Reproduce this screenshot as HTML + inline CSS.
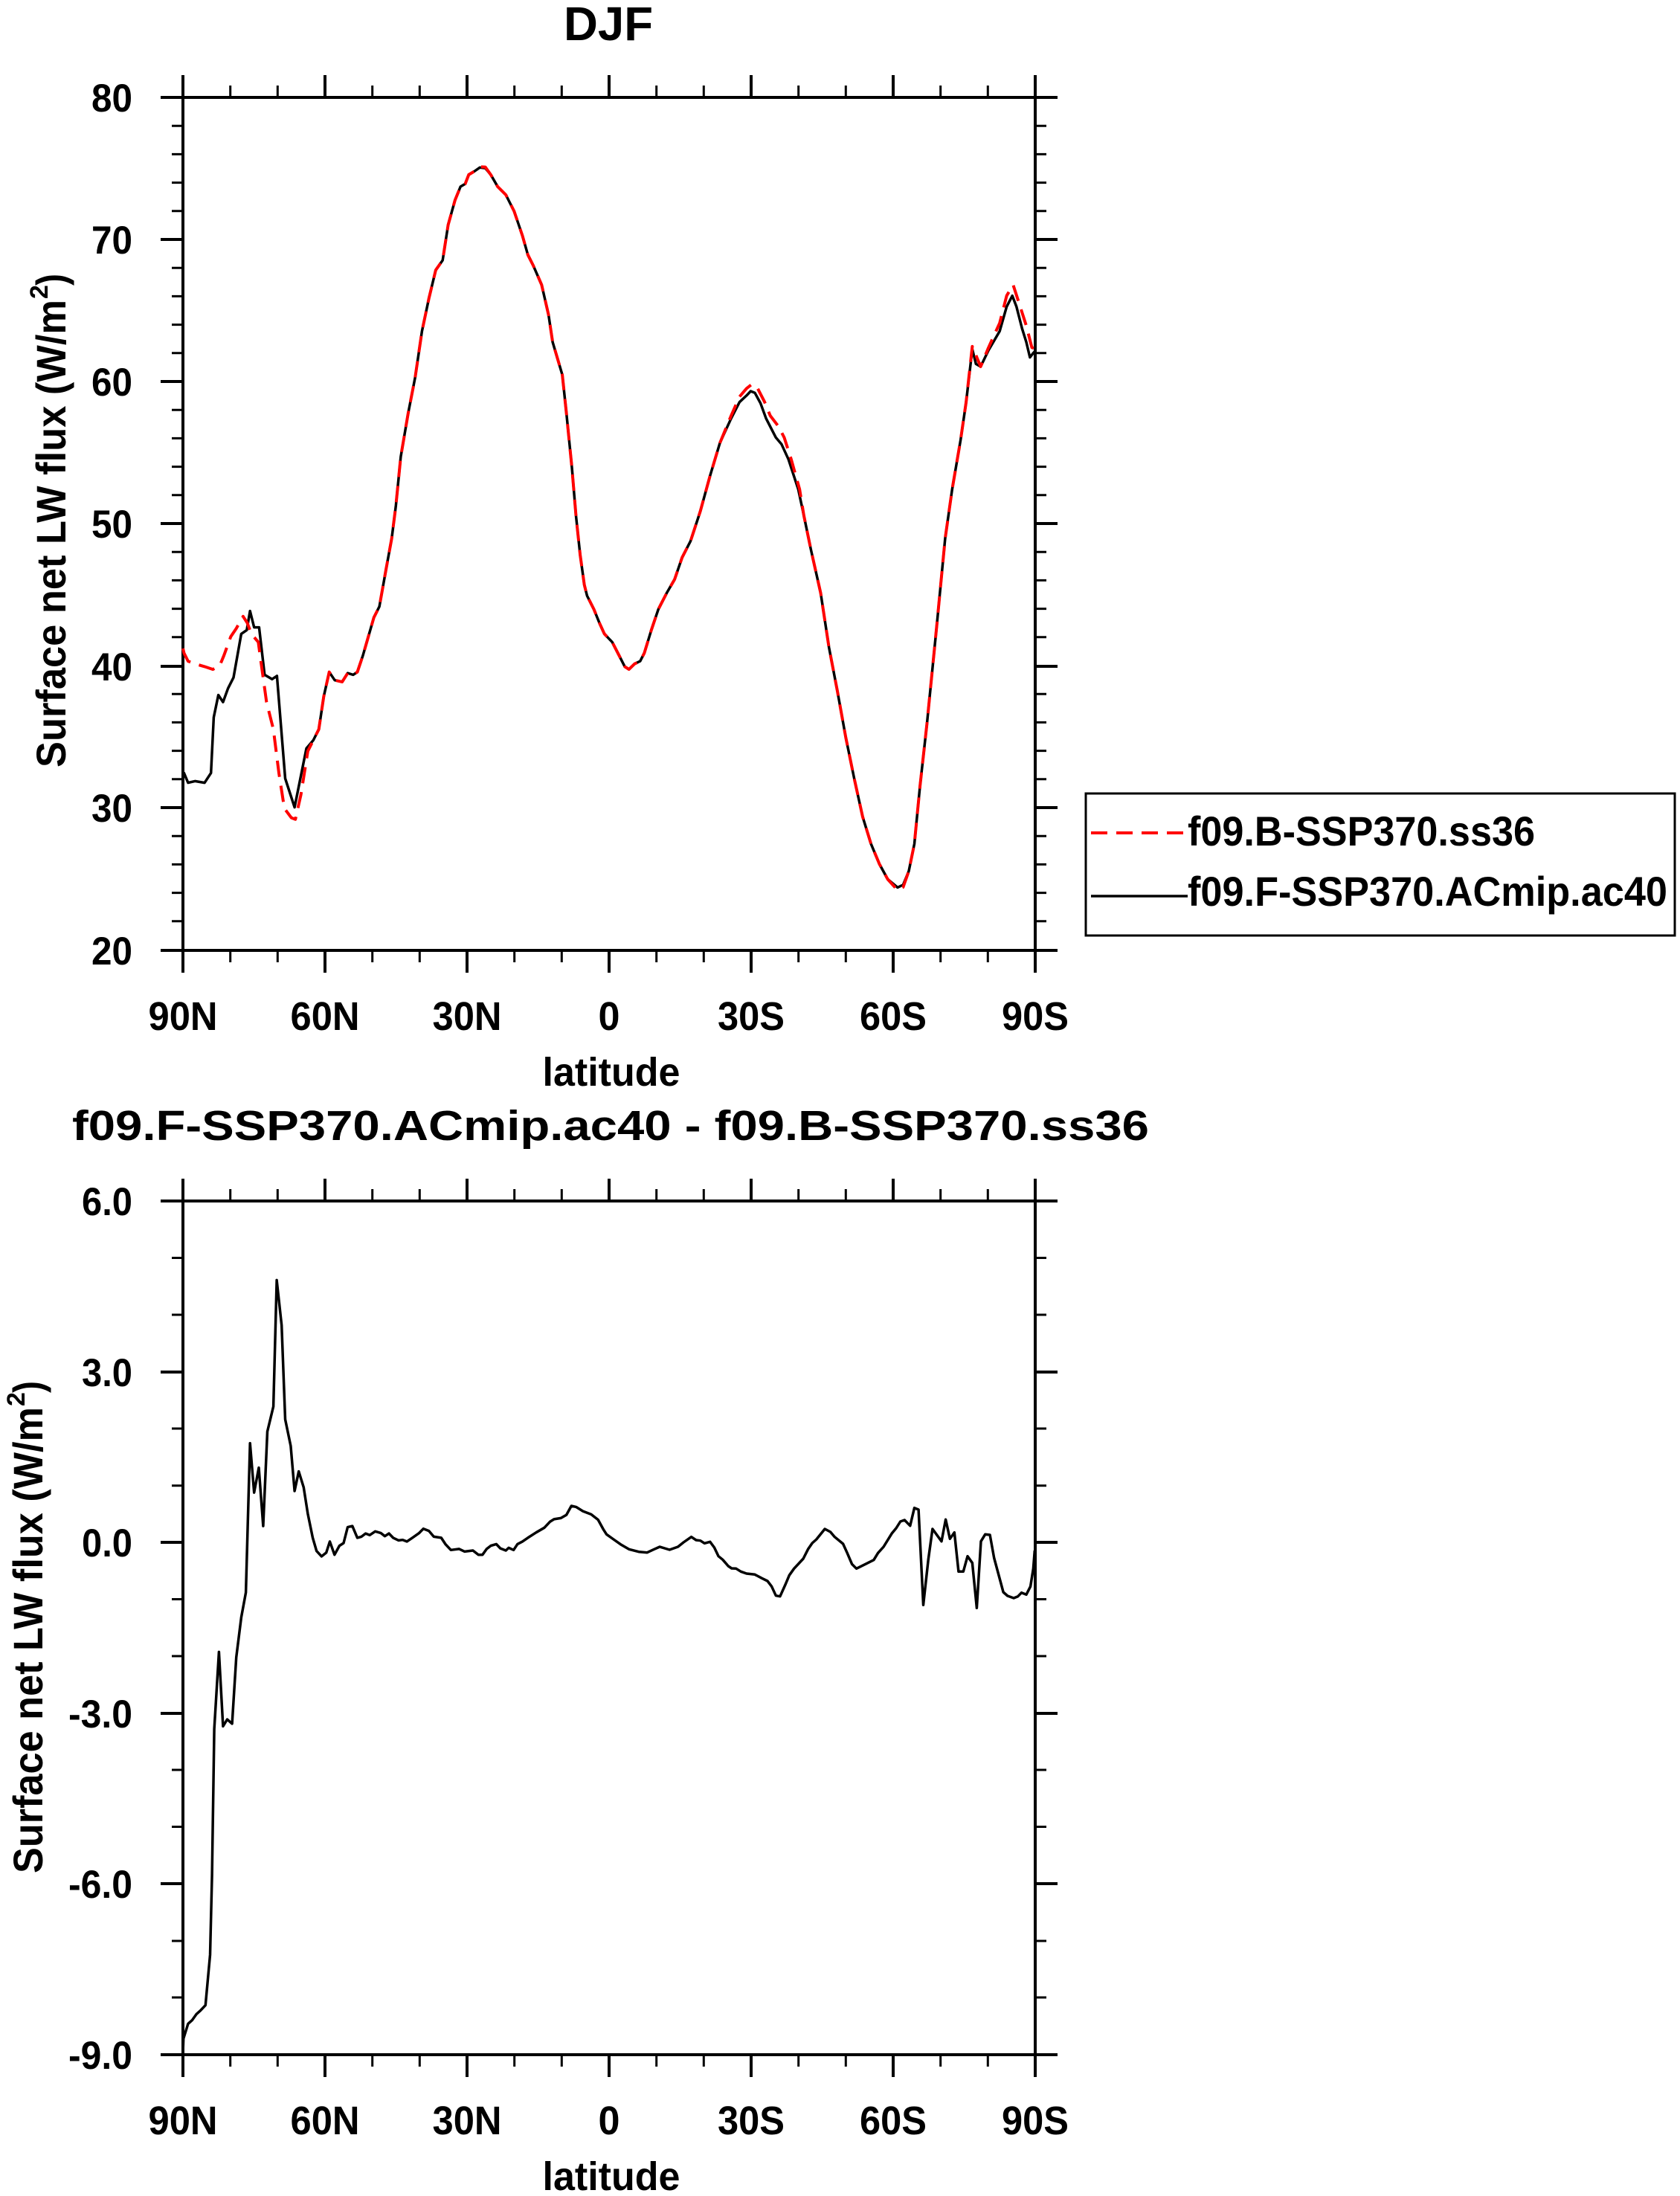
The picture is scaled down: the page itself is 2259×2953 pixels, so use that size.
<!DOCTYPE html>
<html><head><meta charset="utf-8"><style>html,body{margin:0;padding:0;background:#fff}svg{display:block}text{font-family:"Liberation Sans",Arial,sans-serif;font-weight:bold;fill:#000}</style></head><body>
<svg width="2259" height="2953" viewBox="0 0 2259 2953" xmlns="http://www.w3.org/2000/svg">
<text x="818" y="54" font-size="64" text-anchor="middle" textLength="120" lengthAdjust="spacingAndGlyphs">DJF</text>
<g stroke="#000" fill="none" stroke-linecap="butt">
<rect x="246" y="131" width="1146" height="1147" stroke-width="4"/>
<path stroke-width="3" d="M246 169.2h-15M246 207.4h-15M246 245.6h-15M246 283.8h-15M246 360.2h-15M246 398.4h-15M246 436.6h-15M246 474.8h-15M246 551.2h-15M246 589.4h-15M246 627.6h-15M246 665.8h-15M246 742.2h-15M246 780.4h-15M246 818.6h-15M246 856.8h-15M246 933.2h-15M246 971.4h-15M246 1009.6h-15M246 1047.8h-15M246 1124.2h-15M246 1162.4h-15M246 1200.6h-15M246 1238.8h-15
M1392 169.2h15M1392 207.4h15M1392 245.6h15M1392 283.8h15M1392 360.2h15M1392 398.4h15M1392 436.6h15M1392 474.8h15M1392 551.2h15M1392 589.4h15M1392 627.6h15M1392 665.8h15M1392 742.2h15M1392 780.4h15M1392 818.6h15M1392 856.8h15M1392 933.2h15M1392 971.4h15M1392 1009.6h15M1392 1047.8h15M1392 1124.2h15M1392 1162.4h15M1392 1200.6h15M1392 1238.8h15
M309.7 131v-16M373.3 131v-16M500.7 131v-16M564.3 131v-16M691.7 131v-16M755.3 131v-16M882.7 131v-16M946.3 131v-16M1073.7 131v-16M1137.3 131v-16M1264.7 131v-16M1328.3 131v-16
M309.7 1278v16M373.3 1278v16M500.7 1278v16M564.3 1278v16M691.7 1278v16M755.3 1278v16M882.7 1278v16M946.3 1278v16M1073.7 1278v16M1137.3 1278v16M1264.7 1278v16M1328.3 1278v16"/>
<path stroke-width="4" d="M246 131h-30M246 322h-30M246 513h-30M246 704h-30M246 896h-30M246 1086h-30M246 1278h-30
M1392 131h30M1392 322h30M1392 513h30M1392 704h30M1392 896h30M1392 1086h30M1392 1278h30
M246 131v-30M437 131v-30M628 131v-30M819 131v-30M1010 131v-30M1201 131v-30M1392 131v-30
M246 1278v30M437 1278v30M628 1278v30M819 1278v30M1010 1278v30M1201 1278v30M1392 1278v30"/>
</g>
<g font-size="53" text-anchor="end">
<text x="178" y="150" textLength="55" lengthAdjust="spacingAndGlyphs">80</text>
<text x="178" y="341" textLength="55" lengthAdjust="spacingAndGlyphs">70</text>
<text x="178" y="532" textLength="55" lengthAdjust="spacingAndGlyphs">60</text>
<text x="178" y="723" textLength="55" lengthAdjust="spacingAndGlyphs">50</text>
<text x="178" y="915" textLength="55" lengthAdjust="spacingAndGlyphs">40</text>
<text x="178" y="1105" textLength="55" lengthAdjust="spacingAndGlyphs">30</text>
<text x="178" y="1297" textLength="55" lengthAdjust="spacingAndGlyphs">20</text>
</g>
<g font-size="54" text-anchor="middle">
<text x="246" y="1385" textLength="93" lengthAdjust="spacingAndGlyphs">90N</text>
<text x="437" y="1385" textLength="93" lengthAdjust="spacingAndGlyphs">60N</text>
<text x="628" y="1385" textLength="93" lengthAdjust="spacingAndGlyphs">30N</text>
<text x="819" y="1385" textLength="29" lengthAdjust="spacingAndGlyphs">0</text>
<text x="1010" y="1385" textLength="90" lengthAdjust="spacingAndGlyphs">30S</text>
<text x="1201" y="1385" textLength="90" lengthAdjust="spacingAndGlyphs">60S</text>
<text x="1392" y="1385" textLength="90" lengthAdjust="spacingAndGlyphs">90S</text>
<text x="822" y="1460" textLength="185" lengthAdjust="spacingAndGlyphs">latitude</text>
</g>
<g transform="translate(88,1032) rotate(-90)">
<text x="0" y="0" font-size="56" textLength="629" lengthAdjust="spacingAndGlyphs">Surface net LW flux (W/m</text>
<text x="630" y="-24" font-size="34">2</text>
<text x="648" y="0" font-size="56" textLength="16" lengthAdjust="spacingAndGlyphs">)</text>
</g>
<polyline fill="none" stroke="#000" stroke-width="3.5" stroke-linejoin="round" points="246,1039 247.4,1039.4 252.9,1052.6 262.2,1050.4 275.1,1052.6 283.7,1039.4 287.4,964.6 293.6,934.6 299.9,944.1 306.6,925.7 314,911.1 324.4,852.4 331.8,847.3 336.2,821.6 341.7,843.6 348.4,843.6 355.8,907.4 365.8,913.3 372.4,908.9 383.5,1046.8 396.1,1085.6 412,1006.4 421.3,995.4 428.7,980.7 435.3,936.7 442.7,903.7 450.1,914.7 460.1,916.9 467.5,905.2 474.9,907.4 480.5,903.7 487.9,881.7 495.3,856.1 502.7,830.4 510.1,815.7 519.3,764.4 526.7,724.1 532.3,680.1 538.9,614 548.9,555.4 558.2,507.7 567.4,445.4 576.7,401.4 585.9,363.2 595.2,350 602.6,302.4 611.8,269.3 619.2,251 625.5,247.3 630.3,234.9 637.7,230.5 645.1,225.3 652.5,226.1 659.9,234.9 669.2,251 680.2,262 691.3,284 702.5,317 709.8,342.7 717.2,357.4 728.3,383 737.6,423.4 743.1,460 756.1,504 761.6,555.4 769,628.7 774.6,694.7 780.1,746.1 785.7,786.4 789.4,801.1 798.6,819.4 806,837.7 812.7,852.4 823.2,863.4 832.6,881.7 840.1,896.4 845.7,900.1 853.3,892.7 860.8,889.1 866.4,878.1 875.8,847.3 885.2,819.4 896.5,797.4 907.1,779.1 917.2,749.7 928.5,727.7 941.7,687.4 954.8,639.7 968,595.7 983.1,562.7 994.4,540.7 1003.8,531.9 1009.4,526 1015,528.2 1022.6,542.2 1030.1,562.7 1043.3,588.4 1050.8,597.2 1060.2,617.7 1073.4,658.1 1080.9,693.3 1090.3,738.7 1103.5,797.4 1114.7,870.7 1126,929.4 1137.3,991.8 1148.6,1046.8 1159.9,1098.1 1171.2,1134.8 1182.5,1161.9 1193.7,1182.4 1206.9,1193.4 1214.4,1189.8 1222,1171.4 1229.5,1134.8 1237,1057.8 1246.4,973.4 1259.6,841.4 1270.9,724.1 1280.3,658.1 1291.6,592 1299.1,540.7 1307.4,469.6 1312.3,489.4 1318.6,493 1329.2,471 1344.2,445.4 1353.6,412.4 1361.2,397.7 1366.8,412.4 1374.3,441.7 1380,460 1384.9,480.6 1389.4,474.7 1392,472"/>
<polyline fill="none" stroke="#ff0000" stroke-width="4" stroke-dasharray="22 12" stroke-linejoin="round" points="246,872 247.4,878.1 252.9,889.1 262.2,892.7 275.1,896.4 286.2,900.1 295.5,895 301,881.7 310.3,856.1 317.7,845.1 326.9,828.9 332.5,837.7 338,852.4 347.3,863.4 352.8,903.7 358.4,944.1 367.6,980.7 375,1039.4 382.4,1087.1 391.7,1099.6 397.2,1101.8 404.6,1068.8 413.9,1010.1 421.3,995.4 428.7,980.7 435.3,936.7 442.7,903.7 450.1,914.7 460.1,916.9 467.5,905.2 474.9,907.4 480.5,903.7 487.9,881.7 495.3,856.1 502.7,830.4 510.1,815.7 519.3,764.4 526.7,724.1 532.3,680.1 538.9,614 548.9,555.4 558.2,507.7 567.4,445.4 576.7,401.4 585.9,363.2 595.2,350 602.6,302.4 611.8,269.3 619.2,251 625.5,247.3 630.3,234.9 637.7,230.5 645.1,224.3 652.5,224.6 659.9,234.9 669.2,251 680.2,262 691.3,284 702.5,317 709.8,342.7 717.2,357.4 728.3,383 737.6,423.4 743.1,460 756.1,504 761.6,555.4 769,628.7 774.6,694.7 780.1,746.1 785.7,786.4 789.4,801.1 798.6,819.4 806,837.7 812.7,852.4 823.2,863.4 832.6,881.7 840.1,896.4 845.7,900.1 853.3,892.7 860.8,889.1 866.4,878.1 875.8,847.3 885.2,819.4 896.5,797.4 907.1,779.1 917.2,749.7 928.5,727.7 941.7,687.4 954.8,639.7 968,595.7 983.1,559 994.4,533.4 1003.8,522.4 1011.3,516.5 1018.8,522.4 1028.2,540.7 1035.7,559 1047,573.7 1054.5,588.4 1063.9,617.7 1075.2,658.1 1080.9,693.3 1090.3,738.7 1103.5,797.4 1114.7,870.7 1126,929.4 1137.3,991.8 1148.6,1046.8 1159.9,1098.1 1171.2,1134.8 1182.5,1161.9 1193.7,1182.4 1206.9,1197 1214.4,1193 1222,1171.4 1229.5,1134.8 1237,1057.8 1246.4,973.4 1259.6,841.4 1270.9,724.1 1280.3,658.1 1291.6,592 1299.1,540.7 1307.4,465.9 1318.6,493 1329.2,467.4 1344.2,434.4 1353.6,397.7 1362.3,383 1370.6,408.7 1380,438 1387.5,467.4 1391.3,468.8"/>
<rect x="1460" y="1067" width="792" height="191" fill="none" stroke="#000" stroke-width="3"/>
<line x1="1467" y1="1120" x2="1597" y2="1120" stroke="#ff0000" stroke-width="4" stroke-dasharray="22 12"/>
<line x1="1467" y1="1205" x2="1597" y2="1205" stroke="#000" stroke-width="3.5"/>
<text x="1597" y="1137" font-size="56" textLength="467" lengthAdjust="spacingAndGlyphs">f09.B-SSP370.ss36</text>
<text x="1597" y="1218" font-size="56" textLength="645" lengthAdjust="spacingAndGlyphs">f09.F-SSP370.ACmip.ac40</text>
<text x="97" y="1533" font-size="57" textLength="1448" lengthAdjust="spacingAndGlyphs">f09.F-SSP370.ACmip.ac40 - f09.B-SSP370.ss36</text>
<g stroke="#000" fill="none">
<rect x="246" y="1615" width="1146" height="1148" stroke-width="4"/>
<path stroke-width="3" d="M246 1691.5h-15M246 1768h-15M246 1921h-15M246 1997.7h-15M246 2150.5h-15M246 2227h-15M246 2380h-15M246 2456.5h-15M246 2610h-15M246 2686h-15
M1392 1691.5h15M1392 1768h15M1392 1921h15M1392 1997.7h15M1392 2150.5h15M1392 2227h15M1392 2380h15M1392 2456.5h15M1392 2610h15M1392 2686h15
M309.7 1615v-16M373.3 1615v-16M500.7 1615v-16M564.3 1615v-16M691.7 1615v-16M755.3 1615v-16M882.7 1615v-16M946.3 1615v-16M1073.7 1615v-16M1137.3 1615v-16M1264.7 1615v-16M1328.3 1615v-16
M309.7 2763v16M373.3 2763v16M500.7 2763v16M564.3 2763v16M691.7 2763v16M755.3 2763v16M882.7 2763v16M946.3 2763v16M1073.7 2763v16M1137.3 2763v16M1264.7 2763v16M1328.3 2763v16"/>
<path stroke-width="4" d="M246 1615h-30M246 1845h-30M246 2074h-30M246 2304h-30M246 2533h-30M246 2763h-30
M1392 1615h30M1392 1845h30M1392 2074h30M1392 2304h30M1392 2533h30M1392 2763h30
M246 1615v-30M437 1615v-30M628 1615v-30M819 1615v-30M1010 1615v-30M1201 1615v-30M1392 1615v-30
M246 2763v30M437 2763v30M628 2763v30M819 2763v30M1010 2763v30M1201 2763v30M1392 2763v30"/>
</g>
<g font-size="53" text-anchor="end">
<text x="178" y="1634" textLength="68" lengthAdjust="spacingAndGlyphs">6.0</text>
<text x="178" y="1864" textLength="68" lengthAdjust="spacingAndGlyphs">3.0</text>
<text x="178" y="2093" textLength="68" lengthAdjust="spacingAndGlyphs">0.0</text>
<text x="178" y="2323" textLength="86" lengthAdjust="spacingAndGlyphs">-3.0</text>
<text x="178" y="2552" textLength="86" lengthAdjust="spacingAndGlyphs">-6.0</text>
<text x="178" y="2782" textLength="86" lengthAdjust="spacingAndGlyphs">-9.0</text>
</g>
<g font-size="54" text-anchor="middle">
<text x="246" y="2870" textLength="93" lengthAdjust="spacingAndGlyphs">90N</text>
<text x="437" y="2870" textLength="93" lengthAdjust="spacingAndGlyphs">60N</text>
<text x="628" y="2870" textLength="93" lengthAdjust="spacingAndGlyphs">30N</text>
<text x="819" y="2870" textLength="29" lengthAdjust="spacingAndGlyphs">0</text>
<text x="1010" y="2870" textLength="90" lengthAdjust="spacingAndGlyphs">30S</text>
<text x="1201" y="2870" textLength="90" lengthAdjust="spacingAndGlyphs">60S</text>
<text x="1392" y="2870" textLength="90" lengthAdjust="spacingAndGlyphs">90S</text>
<text x="822" y="2945" textLength="185" lengthAdjust="spacingAndGlyphs">latitude</text>
</g>
<g transform="translate(57,2519) rotate(-90)">
<text x="0" y="0" font-size="56" textLength="627" lengthAdjust="spacingAndGlyphs">Surface net LW flux (W/m</text>
<text x="628" y="-24" font-size="34">2</text>
<text x="646" y="0" font-size="56" textLength="16" lengthAdjust="spacingAndGlyphs">)</text>
</g>
<polyline fill="none" stroke="#000" stroke-width="3.5" stroke-linejoin="round" points="246,2760 246.7,2741.4 252.9,2721.4 258.5,2716.4 264,2708.6 269.6,2703.6 276.3,2696.4 282.5,2628.6 285.1,2521.4 288.1,2325 294.4,2221.4 299.9,2321.4 305.5,2312.1 312.1,2317.9 317.7,2228.6 324.4,2175 330.6,2141.4 336.2,1940.7 341.7,2007.1 348,1973.6 353.9,2052.1 359.5,1925 367.6,1891.4 372.1,1721.4 378.7,1782.1 383.5,1908.6 390.9,1944.3 396.1,2005 401.7,1978.6 408.3,2000 413.9,2035.7 420.5,2067.9 425.7,2085.7 432.4,2092.9 438.7,2087.9 443.5,2072.9 449.8,2090.7 456.4,2078.6 462,2075 467.5,2053.6 473.8,2052.1 480.5,2067.9 486,2066.4 491.6,2062.1 497.1,2064.3 504.5,2059.3 511.9,2061.4 517.5,2065.7 523,2062.1 528.6,2067.9 536,2071.4 541.5,2070.7 547.1,2072.9 554.5,2067.9 563.7,2061.4 569.3,2055.7 576.7,2058.6 583.3,2066.4 593.3,2067.9 598.9,2076.4 606.3,2084.3 617.4,2082.9 624.8,2086.4 635.9,2085 643.3,2090.7 648.8,2090.7 654.4,2082.9 659.9,2078.6 667.3,2076.4 672.8,2082.1 680.2,2085 684,2081.4 690.6,2084.3 695.8,2076.4 702.5,2072.9 709.8,2067.9 721,2060.7 732,2054.3 739.4,2046.4 745,2042.9 754.2,2041.4 761.6,2037.1 768.3,2025 774.6,2026.4 783.8,2032.1 794.9,2036.4 804.2,2043.6 811.6,2057.1 815.6,2063.3 825,2070 834.5,2076.7 845.7,2083.3 858.9,2086.7 870.2,2087.7 879.6,2083.3 887.1,2080 900.3,2084 911.6,2080 919.1,2074 929.6,2066.7 936,2071 941.7,2071.7 947.3,2075.3 954.8,2073.3 960.5,2081 966.1,2092.7 971.8,2097.3 979.3,2106 983.8,2109 989.8,2109.3 996.2,2113.3 1003.8,2116 1015,2117.3 1024.5,2122.3 1032,2126 1037.6,2133.3 1043.3,2145.7 1048.9,2146.7 1056.4,2130 1061.3,2118.3 1067.7,2109.3 1080.1,2096 1086.5,2083.3 1092.2,2075 1097.8,2070 1109.1,2056 1116.6,2060 1122.3,2066.7 1133.6,2076 1139.2,2088.3 1145.6,2103.3 1151.6,2109.3 1163.7,2103.3 1174.9,2097.7 1180.6,2088.3 1188.1,2080 1199.4,2061.7 1205,2055 1210.7,2046 1216.3,2044 1223.8,2051.7 1229.5,2027.7 1235.1,2030 1241.5,2158.3 1248.3,2096.7 1253.9,2056 1266,2072.7 1271.6,2043.3 1277.3,2069.3 1283.3,2060.7 1288.9,2113.3 1295.3,2113.3 1301,2092.7 1307.4,2101.7 1313.4,2162.3 1319,2072.7 1324.7,2063.3 1331.1,2064 1336.7,2095 1349.1,2141 1354.8,2146 1363.1,2149 1368.7,2146.7 1373.6,2141.7 1380,2144.3 1385.6,2133.3 1389.4,2109.3 1391.3,2085"/>
</svg>
</body></html>
